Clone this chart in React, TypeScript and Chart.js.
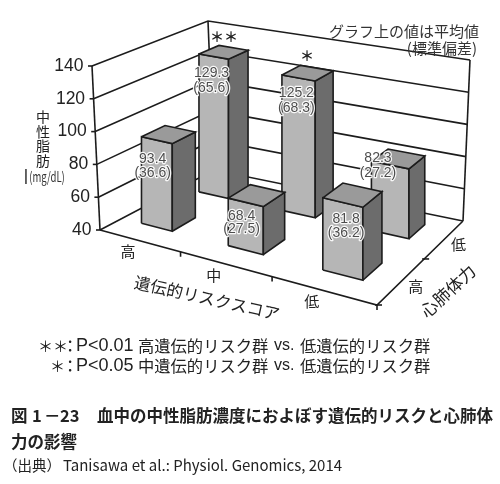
import React, { useEffect, useRef } from 'react';
import { Chart, registerables } from 'chart.js';

Chart.register(...registerables);

const JP = '"Noto Sans CJK JP", "Noto Sans", sans-serif';
const LATIN = '"Liberation Sans", Arial, sans-serif';

const riskLabels = ['高', '中', '低'];
const fitnessLabels = ['高', '低'];
const valueTicks = [40, 60, 80, 100, 120, 140];
const lowFitnessMeans = [129.3, 125.2, 82.3];
const highFitnessMeans = [93.4, 68.4, 81.8];
const lowFitnessSd = [65.6, 68.3, 27.2];
const highFitnessSd = [36.6, 27.5, 36.2];

type P = { x: number; y: number };

// corners of the 3d box on the page, order: front-left, front-right, back-right, back-left
const floor: P[] = [{ x: 100, y: 230 }, { x: 377, y: 305 }, { x: 463, y: 221 }, { x: 214, y: 170 }];
const ceil: P[] = [{ x: 92, y: 66 }, { x: 381, y: 125 }, { x: 470, y: 60 }, { x: 208, y: 21 }];

function homography(q: P[]) {
  const [a, b, c, d] = q;
  const dx1 = b.x - c.x, dx2 = d.x - c.x, sx = a.x - b.x + c.x - d.x;
  const dy1 = b.y - c.y, dy2 = d.y - c.y, sy = a.y - b.y + c.y - d.y;
  const den = dx1 * dy2 - dx2 * dy1;
  const g = (sx * dy2 - dx2 * sy) / den;
  const h = (dx1 * sy - sx * dy1) / den;
  return (s: number, t: number): P => {
    const w = g * s + h * t + 1;
    return {
      x: ((b.x - a.x + g * b.x) * s + (d.x - a.x + h * d.x) * t + a.x) / w,
      y: ((b.y - a.y + g * b.y) * s + (d.y - a.y + h * d.y) * t + a.y) / w,
    };
  };
}
const floorH = homography(floor);
const ceilH = homography(ceil);

// risk: 0..3 along the front edge, fitness: 0..2 going back, value: 40..140
function project(risk: number, fitness: number, value: number): P {
  const f = floorH(risk / 3, fitness / 2);
  const c = ceilH(risk / 3, fitness / 2);
  const t = (value - 40) / 100;
  return { x: f.x + (c.x - f.x) * t, y: f.y + (c.y - f.y) * t };
}

// bars keep upright edges in the original, only walls lean
function projectBar(risk: number, fitness: number, value: number): P {
  const p = project(risk, fitness, value);
  return { x: floorH(risk / 3, fitness / 2).x, y: p.y };
}

const LINE = '#1c1c1c';

function poly(points: P[], fillColor: string | null, order: number, width = 1.6) {
  return {
    type: 'line' as const,
    data: points,
    borderColor: LINE,
    borderWidth: width,
    pointRadius: 0,
    tension: 0,
    fill: false,
    order,
    faceColor: fillColor,
  };
}

const U0 = 0.27, U1 = 0.66, V0 = 0.34, V1 = 0.73;
const riskNudge = [-0.015, 0.04, 0.05];

function barFaces(risk: number, row: number, value: number, order: number) {
  const u0 = risk + riskNudge[risk] + U0, u1 = risk + riskNudge[risk] + U1;
  const v0 = row + V0, v1 = row + V1;
  const front = [projectBar(u0, v0, 40), projectBar(u1, v0, 40), projectBar(u1, v0, value), projectBar(u0, v0, value), projectBar(u0, v0, 40)];
  const side = [projectBar(u1, v0, 40), projectBar(u1, v1, 40), projectBar(u1, v1, value), projectBar(u1, v0, value), projectBar(u1, v0, 40)];
  const top = [projectBar(u0, v0, value), projectBar(u1, v0, value), projectBar(u1, v1, value), projectBar(u0, v1, value), projectBar(u0, v0, value)];
  return [poly(top, '#9a9a9a', order), poly(side, '#6c6c6c', order), poly(front, '#b6b6b6', order)];
}

function buildDatasets() {
  const out: any[] = [];
  let order = 1000;
  // walls
  valueTicks.forEach((v) => {
    out.push(poly([project(0, 0, v), project(0, 2, v), project(3, 2, v)], null, order--));
    out.push(poly([project(0, 0, v), { x: project(0, 0, v).x - 4, y: project(0, 0, v).y }], null, order--));
  });
  out.push(poly([project(0, 0, 40), project(0, 0, 140)], null, order--));
  out.push(poly([project(0, 2, 40), project(0, 2, 140)], null, order--));
  out.push(poly([project(3, 2, 40), project(3, 2, 140)], null, order--));
  // floor
  out.push(poly([project(0, 0, 40), project(3, 0, 40), project(3, 2, 40)], null, order--));
  [1, 2, 3].forEach((r) => {
    const p = project(r, 0, 40);
    out.push(poly([p, { x: p.x, y: p.y + 5 }], null, order--));
  });
  [0, 1].forEach((f) => {
    const p = project(3, f, 40);
    out.push(poly([{ x: p.x - 2, y: p.y }, { x: p.x + 5, y: p.y }], null, order--));
  });
  // bars, back row first
  lowFitnessMeans.forEach((v, i) => out.push(...barFaces(i, 1, v, order--)));
  highFitnessMeans.forEach((v, i) => out.push(...barFaces(i, 0, v, order--)));
  return out;
}

const facePlugin = {
  id: 'faces',
  beforeDatasetDraw(chart: any, args: any) {
    const ds = chart.data.datasets[args.index];
    if (!ds.faceColor) return;
    const pts = args.meta.data;
    const ctx = chart.ctx;
    ctx.save();
    ctx.beginPath();
    pts.forEach((p: any, i: number) => (i ? ctx.lineTo(p.x, p.y) : ctx.moveTo(p.x, p.y)));
    ctx.closePath();
    ctx.fillStyle = ds.faceColor;
    ctx.fill();
    ctx.restore();
  },
};

function text(ctx: CanvasRenderingContext2D, s: string, x: number, y: number, font: string, color = '#222', angle = 0, align: CanvasTextAlign = 'center', scaleX = 1) {
  ctx.save();
  ctx.translate(x, y);
  ctx.rotate((angle * Math.PI) / 180);
  ctx.scale(scaleX, 1);
  ctx.font = font;
  ctx.fillStyle = color;
  ctx.textAlign = align;
  ctx.textBaseline = 'middle';
  ctx.fillText(s, 0, 0);
  ctx.restore();
}

function halo(ctx: CanvasRenderingContext2D, s: string, x: number, y: number) {
  ctx.save();
  ctx.font = `14px ${LATIN}`;
  ctx.textAlign = 'center';
  ctx.textBaseline = 'middle';
  ctx.lineJoin = 'round';
  ctx.lineWidth = 2.4;
  ctx.strokeStyle = 'rgba(255,255,255,0.92)';
  ctx.strokeText(s, x, y);
  ctx.fillStyle = '#4d4d4d';
  ctx.fillText(s, x, y);
  ctx.restore();
}

// label offset from the middle of each bar's top front edge: dx, first line dy, second line dy
const lowFitnessLabelShift = [[-2, 17, 32], [-2, 15, 30], [-12, -7, 8]];
const highFitnessLabelShift = [[-4, 19, 33], [-4, 13.5, 27], [3.5, 17, 31]];

const labelPlugin = {
  id: 'labels',
  afterDatasetsDraw(chart: any) {
    const ctx = chart.ctx;
    const sx = chart.scales.x;
    const sy = chart.scales.y;
    const at = (p: P) => ({ x: sx.getPixelForValue(p.x), y: sy.getPixelForValue(p.y) });

    valueTicks.forEach((v) => {
      const p = at(project(0, 0, v));
      text(ctx, String(v), p.x - 8.5, p.y, `17.5px ${LATIN}`, '#222', 0, 'right');
    });

    // values sit on the front face of each bar
    const row = (means: number[], sds: number[], fit: number, shift: number[][]) => {
      means.forEach((v, i) => {
        const top = at(projectBar(i + riskNudge[i] + (U0 + U1) / 2, fit + V0, v));
        halo(ctx, v.toFixed(1), top.x + shift[i][0], top.y + shift[i][1]);
        halo(ctx, `(${sds[i].toFixed(1)})`, top.x + shift[i][0], top.y + shift[i][2]);
      });
    };
    row(lowFitnessMeans, lowFitnessSd, 1, lowFitnessLabelShift);
    row(highFitnessMeans, highFitnessSd, 0, highFitnessLabelShift);

    riskLabels.forEach((s, i) => {
      const p = at(project(i + 0.5, 0, 40));
      text(ctx, s, p.x - 11, p.y + 11, `15px ${JP}`);
    });
    fitnessLabels.forEach((s, i) => {
      const p = at(project(3, i + 0.5, 40));
      text(ctx, s, p.x + 14, p.y + 5, `15px ${JP}`);
    });

    text(ctx, '遺伝的リスクスコア', 207, 298, `16.5px ${JP}`, '#222', 12.6);
    text(ctx, '心肺体力', 448, 291, `17px ${JP}`, '#222', -43);
    ['中', '性', '脂', '肪'].forEach((s, i) => text(ctx, s, 43, 117 + i * 14.5, `14px ${JP}`));
    text(ctx, '(mg/dL)', 47, 177, `14px ${JP}`, '#333', 0, 'center', 0.68);
    text(ctx, '|', 26, 176, `17px ${LATIN}`);

    text(ctx, '＊＊', 224, 37, `bold 14px ${JP}`);
    text(ctx, '＊', 307, 56, `bold 14px ${JP}`);

    text(ctx, 'グラフ上の値は平均値', 479, 31, `15px ${JP}`, '#333', 0, 'right');
    text(ctx, '(標準偏差)', 477, 48, `15px ${JP}`, '#333', 0, 'right');

    const cap = `16.3px ${JP}`;
    const pf = `18px ${LATIN}`;
    const vs = `16px ${LATIN}`;
    text(ctx, '＊＊', 38, 346, `15px ${JP}`, '#222', 0, 'left');
    text(ctx, '：', 62, 346, cap, '#222', 0, 'left');
    text(ctx, 'P<0.01', 76, 346, pf, '#222', 0, 'left');
    text(ctx, '高遺伝的リスク群', 138, 346, cap, '#222', 0, 'left');
    text(ctx, 'vs.', 274, 346, vs, '#222', 0, 'left');
    text(ctx, '低遺伝的リスク群', 300, 346, cap, '#222', 0, 'left');
    text(ctx, '＊', 50, 366, `15px ${JP}`, '#222', 0, 'left');
    text(ctx, '：', 62, 366, cap, '#222', 0, 'left');
    text(ctx, 'P<0.05', 76, 366, pf, '#222', 0, 'left');
    text(ctx, '中遺伝的リスク群', 138, 366, cap, '#222', 0, 'left');
    text(ctx, 'vs.', 274, 366, vs, '#222', 0, 'left');
    text(ctx, '低遺伝的リスク群', 300, 366, cap, '#222', 0, 'left');

    const bold = `bold 16.5px ${JP}`;
    text(ctx, '図', 11, 415.5, bold, '#222', 0, 'left');
    text(ctx, '1', 32, 415.5, bold, '#222', 0, 'left');
    text(ctx, '－', 44, 415.5, bold, '#222', 0, 'left');
    text(ctx, '23', 60, 415.5, bold, '#222', 0, 'left');
    text(ctx, '血中の中性脂肪濃度におよぼす遺伝的リスクと心肺体', 97, 415.5, bold, '#222', 0, 'left');
    text(ctx, '力の影響', 11, 441.5, bold, '#222', 0, 'left');
    text(ctx, '（出典）', 3, 465.5, `14.5px ${JP}`, '#222', 0, 'left');
    text(ctx, 'Tanisawa et al.: Physiol. Genomics, 2014', 63, 465.5, `15px ${JP}`, '#222', 0, 'left');
  },
};

export default function App() {
  const ref = useRef<HTMLCanvasElement>(null);

  useEffect(() => {
    document.body.style.margin = '0';
    document.body.style.background = '#fff';
    if (!ref.current) return;
    const chart = new Chart(ref.current, {
      type: 'line',
      data: { datasets: buildDatasets() },
      options: {
        responsive: false,
        animation: false,
        parsing: { xAxisKey: 'x', yAxisKey: 'y' },
        layout: { padding: 0 },
        plugins: { legend: { display: false }, tooltip: { enabled: false }, title: { display: false } },
        scales: {
          x: { type: 'linear', min: 0, max: 500, display: false },
          y: { type: 'linear', min: 0, max: 484, reverse: true, display: false },
        },
      },
      plugins: [facePlugin, labelPlugin],
    } as any);
    return () => chart.destroy();
  }, []);

  return <canvas ref={ref} width={500} height={484} style={{ display: 'block' }} />;
}
